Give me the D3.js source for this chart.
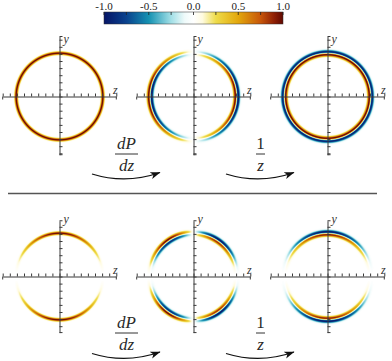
<!DOCTYPE html>
<html>
<head>
<meta charset="utf-8">
<script src="https://cdn.jsdelivr.net/npm/d3@7"></script>
<style>
  body { margin: 0; background: #fff; }
  .serif { font-family: "Liberation Serif", serif; }
</style>
</head>
<body>
<div id="chart"></div>
<script>
// ---- data ----
const rows = ["isotropic", "angular"];
const steps = ["P", "dP/dz", "(1/z) dP/dz"];
const ringRadius = 6.1;                 // in axis units
const ringWidth = [0.15, 0.21, 0.21];   // gaussian sigma per step
const axisTicks = d3.range(-8, 9);
const colorbarLabels = [-1, -0.5, 0, 0.5, 1];
const colorbarTicks = d3.range(-1, 1.01, 0.25);
const colorStops = [-1, -0.75, -0.5, -0.25, -0.1, 0, 0.1, 0.25, 0.5, 0.75, 0.9, 1];
const colorHex = ["#061566", "#0a428e", "#1592b2", "#a2dfe6", "#eefafa", "#ffffff",
                  "#fffbe0", "#eedc4a", "#e3a70c", "#c7560a", "#8f2005", "#600902"];
const opNumerators = ["dP", "1"];
const opDenominators = ["dz", "z"];

// ---- layout ----
const width = 392, height = 361;
const colX = [59.5, 193.5, 327.5];
const rowY = [96.5, 276.5];
const unit = 7.1;
const yExtent = [[-8.2, 8.45], [-7.9, 7.85]];

const color = d3.scaleLinear().domain(colorStops).range(colorHex)
  .interpolate(d3.interpolateRgb).clamp(true);

const svg = d3.select("#chart").append("svg")
  .attr("width", width).attr("height", height)
  .attr("viewBox", `0 0 ${width} ${height}`);

// field of each panel, (z, y) in axis units
function field(row, step, z, y) {
  const s = ringWidth[step];
  const r = Math.max(Math.hypot(z, y), 1e-6);
  const g = Math.exp(-((r - ringRadius) ** 2) / (2 * s * s));
  const gp = -(r - ringRadius) / (s * s) * g;
  if (row === 0) {
    if (step === 0) return g;
    if (step === 1) return gp * z / r;
    return gp / r;
  }
  const a = (y * y) / (r * r);
  if (step === 0) return g * a;
  if (step === 1) return gp * (z / r) * a - 2 * g * z * y * y / r ** 4;
  return gp * a / r - 2 * g * y * y / r ** 4;
}

// ---- ring fields painted on a canvas (2x2 supersampled) ----
const canvas = document.createElement("canvas");
canvas.width = width; canvas.height = height;
const ctx = canvas.getContext("2d");
const img = ctx.createImageData(width, height);
const half = 62;
const sub = [0.25, 0.75];

rows.forEach((rowName, ri) => {
  steps.forEach((stepName, si) => {
    const cx = colX[si], cy = rowY[ri];
    const zs = d3.scaleLinear().domain([-8, 8]).range([cx - 8 * unit, cx + 8 * unit]);
    const ys = d3.scaleLinear().domain([-8, 8]).range([cy + 8 * unit, cy - 8 * unit]);
    const x0 = Math.floor(cx - half), y0 = Math.floor(cy - half);
    const n = 2 * half;
    const vals = new Float32Array(n * n * 4);
    let maxAbs = 0;
    for (let j = 0; j < n; j++) {
      for (let i = 0; i < n; i++) {
        let q = 0;
        sub.forEach(dy => sub.forEach(dx => {
          const v = field(ri, si, zs.invert(x0 + i + dx), ys.invert(y0 + j + dy));
          vals[(j * n + i) * 4 + q++] = v;
          if (Math.abs(v) > maxAbs) maxAbs = Math.abs(v);
        }));
      }
    }
    for (let j = 0; j < n; j++) {
      for (let i = 0; i < n; i++) {
        let rr = 0, gg = 0, bb = 0, any = false;
        for (let q = 0; q < 4; q++) {
          const v = vals[(j * n + i) * 4 + q] / maxAbs;
          if (Math.abs(v) >= 0.01) any = true;
          const c = d3.rgb(color(v));
          rr += c.r; gg += c.g; bb += c.b;
        }
        if (!any) continue;
        const k = ((y0 + j) * width + (x0 + i)) * 4;
        img.data[k] = rr / 4; img.data[k + 1] = gg / 4; img.data[k + 2] = bb / 4; img.data[k + 3] = 255;
      }
    }
  });
});
ctx.putImageData(img, 0, 0);
svg.append("image").attr("x", 0).attr("y", 0)
  .attr("width", width).attr("height", height)
  .attr("href", canvas.toDataURL());

// ---- axes ----
const axisColor = "#3a3a3a";
rows.forEach((rowName, ri) => {
  steps.forEach((stepName, si) => {
    const cx = colX[si], cy = rowY[ri];
    const zs = d3.scaleLinear().domain([-8, 8]).range([cx - 8 * unit, cx + 8 * unit]);
    const ys = d3.scaleLinear().domain(yExtent[ri])
      .range([cy - yExtent[ri][0] * unit, cy - yExtent[ri][1] * unit]);
    const g = svg.append("g").attr("class", "panel");

    g.append("g").attr("transform", `translate(0,${cy})`)
      .call(d3.axisTop(zs).tickValues(axisTicks).tickSize(3).tickSizeOuter(0).tickFormat(""));
    g.append("g").attr("transform", `translate(${cx},0)`)
      .call(d3.axisRight(ys).tickValues(axisTicks.filter(t => t > yExtent[ri][0] && t < yExtent[ri][1]))
        .tickSize(3).tickSizeOuter(0).tickFormat(""));
    g.selectAll("path.domain, .tick line").attr("stroke", axisColor).attr("stroke-width", 1);

    // end stubs
    [zs.range()[0], zs.range()[1]].forEach(x => {
      g.append("line").attr("x1", x).attr("x2", x).attr("y1", cy).attr("y2", cy + 3)
        .attr("stroke", axisColor);
    });
    [ys.range()[0], ys.range()[1]].forEach(y => {
      g.append("line").attr("x1", cx).attr("x2", cx + 3).attr("y1", y).attr("y2", y)
        .attr("stroke", axisColor);
    });

    g.append("text").attr("class", "serif").attr("x", cx + 4).attr("y", cy - 54)
      .attr("font-size", 12).attr("font-style", "italic").attr("fill", "#333").text("y");
    g.append("text").attr("class", "serif").attr("x", cx + 53.5).attr("y", cy - 2.5)
      .attr("font-size", 12).attr("font-style", "italic").attr("fill", "#333").text("z");
  });
});

// ---- arrows and operator labels ----
svg.append("defs").append("marker")
  .attr("id", "head").attr("markerUnits", "userSpaceOnUse")
  .attr("markerWidth", 11).attr("markerHeight", 8)
  .attr("refX", 9.5).attr("refY", 4).attr("orient", "auto")
  .append("path").attr("d", "M0,0.5 L10,4 L0,7.5 L2.5,4 Z").attr("fill", "#111");

rows.forEach((rowName, ri) => {
  const cy = rowY[ri];
  const ay = cy + 77.5 - ri * 0.5;
  const barY = cy + 57.5 - ri * 1;
  [0, 1].forEach(k => {
    const xa = colX[k] + 32.5, xb = colX[k + 1] - 33.5;
    svg.append("path")
      .attr("d", `M${xa},${ay} Q${(xa + xb) / 2},${ay + 10.5} ${xb},${ay - 1.5}`)
      .attr("fill", "none").attr("stroke", "#111").attr("stroke-width", 1.3)
      .attr("marker-end", "url(#head)");

    const mx = (colX[k] + colX[k + 1]) / 2;
    svg.append("text").attr("class", "serif").attr("x", mx).attr("y", barY - 5)
      .attr("text-anchor", "middle").attr("font-size", 17).attr("fill", "#2a2a2a")
      .attr("font-style", k === 0 ? "italic" : "normal").text(opNumerators[k]);
    svg.append("text").attr("class", "serif").attr("x", mx).attr("y", barY + 17)
      .attr("text-anchor", "middle").attr("font-size", 17).attr("fill", "#2a2a2a")
      .attr("font-style", "italic").text(opDenominators[k]);
    const w = k === 0 ? 23 : 9;
    svg.append("line").attr("x1", mx - w / 2).attr("x2", mx + w / 2)
      .attr("y1", barY).attr("y2", barY).attr("stroke", "#333").attr("stroke-width", 1);
  });
});

// separator
svg.append("line").attr("x1", 8).attr("x2", 377).attr("y1", 193.5).attr("y2", 193.5)
  .attr("stroke", "#555").attr("stroke-width", 1.3);

// ---- colorbar ----
const cb = d3.scaleLinear().domain([-1, 1]).range([104, 283]);
const grad = svg.select("defs").append("linearGradient").attr("id", "cbgrad")
  .attr("x1", "0%").attr("x2", "100%");
d3.range(-1, 1.001, 0.05).forEach(v => {
  grad.append("stop").attr("offset", `${(v + 1) / 2 * 100}%`).attr("stop-color", color(v));
});
svg.append("rect").attr("x", cb(-1)).attr("y", 12).attr("width", cb(1) - cb(-1)).attr("height", 12)
  .attr("fill", "url(#cbgrad)").attr("stroke", "#333").attr("stroke-width", 0.5);
svg.selectAll("line.cbtick").data(colorbarTicks).enter().append("line")
  .attr("class", "cbtick")
  .attr("x1", d => cb(d)).attr("x2", d => cb(d)).attr("y1", 12).attr("y2", 15)
  .attr("stroke", "#222").attr("stroke-width", 0.8);
svg.selectAll("text.cblabel").data(colorbarLabels).enter().append("text")
  .attr("class", "cblabel serif")
  .attr("x", d => cb(d)).attr("y", 9.5).attr("text-anchor", "middle")
  .attr("font-size", 11).attr("fill", "#222")
  .text(d => d3.format(".1f")(d).replace("−", "-"));
</script>
</body>
</html>
